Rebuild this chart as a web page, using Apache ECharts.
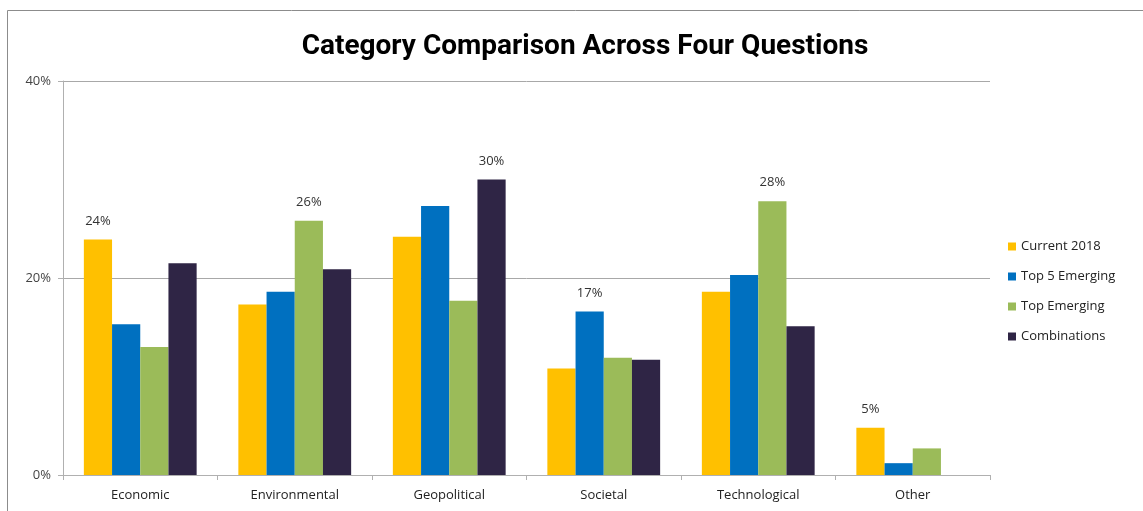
<!DOCTYPE html>
<html>
<head>
<meta charset="utf-8">
<script src="https://cdn.jsdelivr.net/npm/echarts@6/dist/echarts.min.js"></script>
<style>html,body{margin:0;padding:0;background:#fff;}#c{width:1143px;height:511px;}</style>
</head>
<body>
<div id="c"></div>
<script>
const categories = ['Economic', 'Environmental', 'Geopolitical', 'Societal', 'Technological', 'Other'];
const current2018 = [23.9, 17.3, 24.2, 10.8, 18.6, 4.8];
const top5Emerging = [15.3, 18.6, 27.3, 16.6, 20.3, 1.2];
const topEmerging = [13.0, 25.8, 17.7, 11.9, 27.8, 2.7];
const combinations = [21.5, 20.9, 30.0, 11.7, 15.1, 0];
const seriesNames = ['Current 2018', 'Top 5 Emerging', 'Top Emerging', 'Combinations'];
const colors = ['#FFC000', '#0070C0', '#9BBB59', '#2F2545'];
const yTicks = [0, 20, 40];

const all = [current2018, top5Emerging, topEmerging, combinations];
const maxIdx = categories.map((c, i) => {
  let best = 0;
  all.forEach((s, k) => { if (s[i] > all[best][i]) best = k; });
  return best;
});

const chart = echarts.init(document.getElementById('c'));
chart.setOption({
  animation: false,
  backgroundColor: '#fff',
  title: {
    text: 'Category Comparison Across Four Questions',
    left: 580, top: 28, textAlign: 'center',
    textStyle: { fontFamily: 'Roboto', fontWeight: 'bold', fontSize: 28, color: '#000' }
  },
  graphic: [{
    type: 'rect', shape: { x: 7.5, y: 10.5, width: 1150, height: 520 },
    style: { fill: 'none', stroke: '#8c8c8c', lineWidth: 1 }, silent: true
  }],
  legend: {
    orient: 'vertical', left: 1003, top: 235, itemGap: 17,
    itemWidth: 8, itemHeight: 8, icon: 'rect',
    textStyle: { fontFamily: 'Open Sans', fontSize: 13, color: '#222' },
    data: seriesNames
  },
  grid: { left: 63, right: 153, top: 81, bottom: 36 },
  xAxis: {
    type: 'category', data: categories,
    axisLine: { lineStyle: { color: '#b0b0b0' } },
    axisTick: { show: true, length: 5, lineStyle: { color: '#b0b0b0' } },
    axisLabel: { fontFamily: 'Open Sans', fontSize: 13, color: '#222', margin: 14 }
  },
  yAxis: {
    type: 'value', min: 0, max: 40, interval: 20,
    axisLine: { show: true, lineStyle: { color: '#b0b0b0' } },
    axisTick: { show: true, length: 5, lineStyle: { color: '#b0b0b0' } },
    splitLine: { lineStyle: { color: '#a8a8a8' } },
    axisLabel: { fontFamily: 'Open Sans', fontSize: 13, color: '#444', margin: 12,
      formatter: v => yTicks.includes(v) ? v + '%' : '' }
  },
  series: all.map((s, k) => ({
    name: seriesNames[k], type: 'bar',
    barCategoryGap: '27%', barGap: '0%',
    itemStyle: { color: colors[k] },
    data: s.map((v, i) => ({
      value: v,
      label: {
        show: maxIdx[i] === k, position: 'top', distance: 12,
        fontFamily: 'Open Sans', fontSize: 13, color: '#333',
        formatter: p => Math.round(p.value) + '%'
      }
    }))
  }))
});
</script>
</body>
</html>
